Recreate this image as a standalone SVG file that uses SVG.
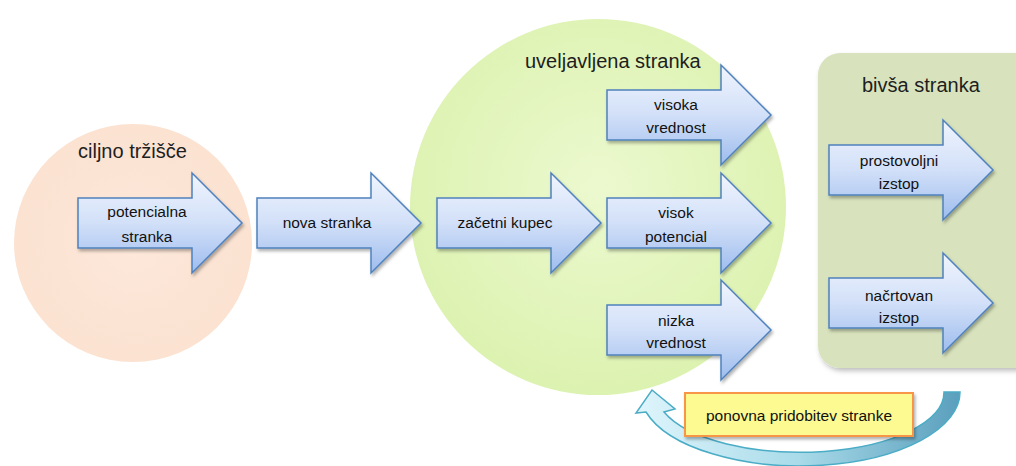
<svg xmlns="http://www.w3.org/2000/svg" width="1016" height="466" viewBox="0 0 1016 466">
  <style>
    .hdr { font-family: "Liberation Sans", Arial, sans-serif; font-size: 20px; fill: #1e1e1e; }
    .lbl { font-family: "Liberation Sans", Arial, sans-serif; font-size: 15.5px; fill: #111; text-anchor: middle; }
    .blk { fill: url(#blueFill); stroke: #4f81bd; stroke-width: 1.5; filter: url(#shadow); }
  </style>
  <defs>
    <filter id="shadow" x="-10%" y="-10%" width="130%" height="130%">
      <feDropShadow dx="1.5" dy="2.5" stdDeviation="1.8" flood-color="#000" flood-opacity="0.3"/>
    </filter>
    <filter id="softShadow" x="-10%" y="-10%" width="130%" height="130%">
      <feDropShadow dx="2" dy="3" stdDeviation="2.5" flood-color="#000" flood-opacity="0.25"/>
    </filter>
    <linearGradient id="blueFill" x1="0" y1="0" x2="0" y2="1">
      <stop offset="0" stop-color="#f0f5fe"/>
      <stop offset="0.5" stop-color="#d2e0f8"/>
      <stop offset="1" stop-color="#9dbcee"/>
    </linearGradient>
    <radialGradient id="peachFill" cx="0.5" cy="0.5" r="0.5">
      <stop offset="0" stop-color="#fde8da"/>
      <stop offset="1" stop-color="#fbe2d1"/>
    </radialGradient>
    <radialGradient id="greenFill" cx="0.5" cy="0.45" r="0.55">
      <stop offset="0" stop-color="#ecf9cf"/>
      <stop offset="1" stop-color="#dcf2b0"/>
    </radialGradient>
    <linearGradient id="loopFill" x1="0" y1="0" x2="1" y2="0">
      <stop offset="0" stop-color="#dff5fc"/>
      <stop offset="0.5" stop-color="#a9dbe9"/>
      <stop offset="1" stop-color="#5a9fbd"/>
    </linearGradient>
    <!-- block arrow: body 114x50, head 50 long, 100 tall -->
    <path id="blockArrow" d="M0 25 H114 V0 L164 50 L114 100 V75 H0 Z"/>
  </defs>

  <!-- background regions -->
  <g id="ciljno-trzisce">
    <circle cx="133" cy="243" r="119" fill="url(#peachFill)"/>
    <text class="hdr" x="78" y="158">ciljno tržišče</text>
  </g>
  <g id="uveljavljena-stranka">
    <circle cx="598" cy="207" r="188" fill="url(#greenFill)"/>
    <text class="hdr" x="525" y="68">uveljavljena stranka</text>
  </g>
  <g id="bivsa-stranka">
    <rect x="818" y="53" width="230" height="315" rx="22" fill="#d8e3bd" filter="url(#softShadow)"/>
    <text class="hdr" x="862" y="92">bivša stranka</text>
  </g>

  <!-- stage arrows -->
  <g id="potencialna-stranka">
    <use href="#blockArrow" class="blk" transform="translate(78 173)"/>
    <text class="lbl" x="147" y="217">potencialna</text>
    <text class="lbl" x="147" y="242">stranka</text>
  </g>
  <g id="nova-stranka">
    <use href="#blockArrow" class="blk" transform="translate(257 173)"/>
    <text class="lbl" x="327" y="228">nova stranka</text>
  </g>
  <g id="zacetni-kupec">
    <use href="#blockArrow" class="blk" transform="translate(437 173)"/>
    <text class="lbl" x="505" y="228">začetni kupec</text>
  </g>
  <g id="visoka-vrednost">
    <use href="#blockArrow" class="blk" transform="translate(607 65)"/>
    <text class="lbl" x="676" y="110">visoka</text>
    <text class="lbl" x="676" y="133">vrednost</text>
  </g>
  <g id="visok-potencial">
    <use href="#blockArrow" class="blk" transform="translate(607 173)"/>
    <text class="lbl" x="676" y="218">visok</text>
    <text class="lbl" x="676" y="242">potencial</text>
  </g>
  <g id="nizka-vrednost">
    <use href="#blockArrow" class="blk" transform="translate(607 280)"/>
    <text class="lbl" x="676" y="326">nizka</text>
    <text class="lbl" x="676" y="348">vrednost</text>
  </g>
  <g id="prostovoljni-izstop">
    <use href="#blockArrow" class="blk" transform="translate(829 120)"/>
    <text class="lbl" x="899" y="166">prostovoljni</text>
    <text class="lbl" x="899" y="189">izstop</text>
  </g>
  <g id="nacrtovan-izstop">
    <use href="#blockArrow" class="blk" transform="translate(829 253)"/>
    <text class="lbl" x="899" y="301">načrtovan</text>
    <text class="lbl" x="899" y="323">izstop</text>
  </g>

  <!-- win-back loop -->
  <g id="connectors">
    <path d="M960 392 A160 74 0 0 1 646 412 L636 413 L652 390 L675 409 L664 412 A144 60 0 0 0 944 392 Z"
          fill="url(#loopFill)" stroke="#4bacc6" stroke-width="1.5"/>
  </g>

  <g id="ponovna-pridobitev">
    <rect x="685" y="393" width="228" height="43" fill="#fdfa92" stroke="#f79646" stroke-width="2" filter="url(#shadow)"/>
    <text class="lbl" x="799" y="421">ponovna pridobitev stranke</text>
  </g>
</svg>
